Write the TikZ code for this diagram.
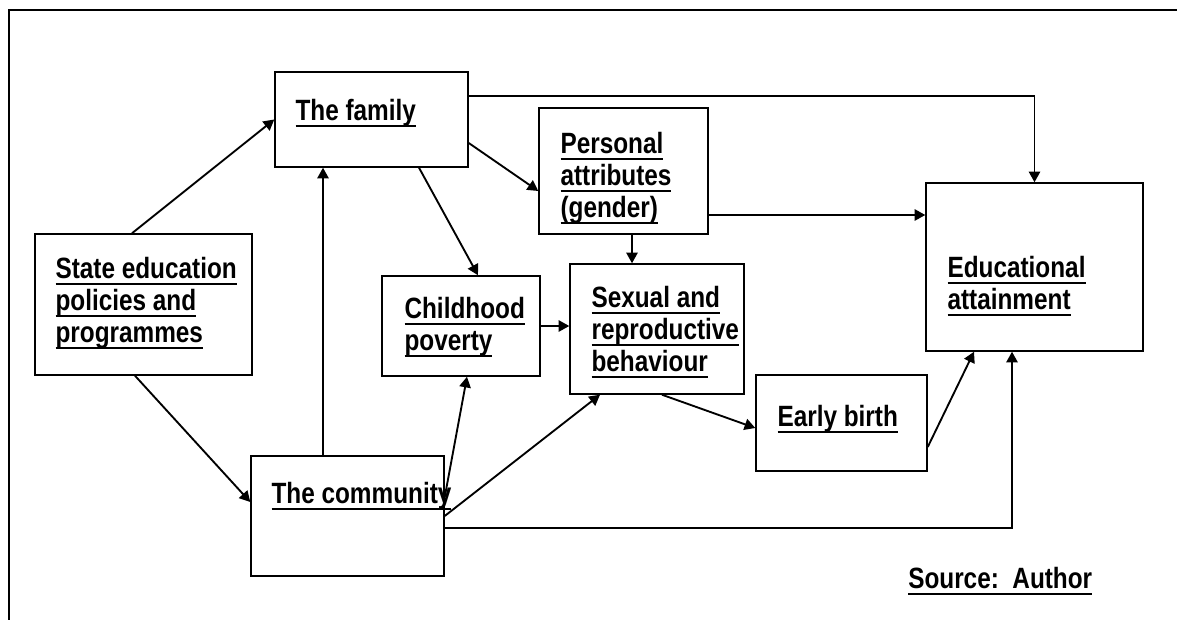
\documentclass[tikz,border=0pt]{standalone}
\usepackage{fontspec}
\usepackage{tikz}
\usetikzlibrary{arrows.meta}
\newfontfamily\diagfont[FakeStretch=0.83]{Liberation Sans}
\newcommand\undl[1]{\leavevmode\setbox0\hbox{#1}\rlap{\rule[-4.5pt]{\wd0}{1.5pt}}\box0}

\begin{document}
\begin{tikzpicture}[x=0.75pt, y=-0.75pt]
  \tikzset{box/.style={draw, line width=1.1pt, inner sep=0pt},
           lbl/.style={anchor=north west, inner sep=0pt, align=left,
                       font=\diagfont\bfseries\fontsize{22pt}{24pt}\selectfont},
           arr/.style={line width=1.4pt, -{Triangle[length=8pt,width=8.5pt]}}}
  \useasboundingbox (0,0) rectangle (1177,620);
  \draw[line width=1.1pt] (1177,10) -- (9,10) -- (9,620);

  \node[box, minimum width=162.75pt, minimum height=105.75pt] (state) at (143.5,304.5) {};
  \node[box, minimum width=144.75pt, minimum height=71.25pt] (family) at (371.5,119.5) {};
  \node[box, minimum width=144.75pt, minimum height=90pt] (community) at (347.5,516) {};
  \node[box, minimum width=126.75pt, minimum height=94.5pt] (personal) at (623.5,171) {};
  \node[box, minimum width=118.5pt, minimum height=75pt] (poverty) at (461,326) {};
  \node[box, minimum width=130.5pt, minimum height=97.5pt] (sexual) at (657,329) {};
  \node[box, minimum width=128.25pt, minimum height=72pt] (birth) at (841.5,423) {};
  \node[box, minimum width=162.75pt, minimum height=126pt] (attain) at (1034.5,267) {};

  \node[lbl] (statetxt) at ([shift={(21,24)}]state.north west)
    {\undl{State education}\\\undl{policies and}\\\undl{programmes}};
  \node[lbl] (familytxt) at ([shift={(21,28)}]family.north west) {\undl{The family}};
  \node[lbl] (communitytxt) at ([shift={(21,27)}]community.north west) {\undl{The community}};
  \node[lbl] (personaltxt) at ([shift={(22,25)}]personal.north west)
    {\undl{Personal}\\\undl{attributes}\\\undl{(gender)}};
  \node[lbl] (povertytxt) at ([shift={(23,22)}]poverty.north west)
    {\undl{Childhood}\\\undl{poverty}};
  \node[lbl] (sexualtxt) at ([shift={(22,23)}]sexual.north west)
    {\undl{Sexual and}\\\undl{reproductive}\\\undl{behaviour}};
  \node[lbl] (birthtxt) at ([shift={(22,31)}]birth.north west) {\undl{Early birth}};
  \node[lbl] (attaintxt) at ([shift={(22,74)}]attain.north west)
    {\undl{Educational}\\\undl{attainment}};
  \node[lbl] (source) at (908,567) {\undl{Source:\ \ Author}};

  \draw[arr] ([shift={(-11.5,0)}]state.north) -- (family.west);
  \draw[arr] ([shift={(-8.5,0)}]state.south) -- ([shift={(0,-14)}]community.west);
  \draw[arr] ([shift={(-48.5,0)}]family.south |- community.north) -- ([shift={(-48.5,0)}]family.south);
  \draw[arr] ([shift={(0,-23.5)}]family.east) -| (attain.north);
  \draw[arr] ([shift={(0,23.5)}]family.east) -- ([shift={(0,20)}]personal.west);
  \draw[arr] ([shift={(47.5,0)}]family.south) -- ([shift={(17,0)}]poverty.north);
  \draw[arr] ([shift={(8.5,0)}]personal.south) -- ([shift={(8.5,0)}]personal.south |- sexual.north);
  \draw[arr] ([shift={(0,44)}]personal.east) -- ([shift={(0,44)}]personal.east -| attain.west);
  \draw[arr] (poverty.east) -- (poverty.east -| sexual.west);
  \draw[arr] ([shift={(0,-19)}]community.east) -- ([shift={(6,0)}]poverty.south);
  \draw[arr] (community.east) -- ([shift={(-57,0)}]sexual.south);
  \draw[arr] ([shift={(0,12)}]community.east) -| ([shift={(-22.5,0)}]attain.south);
  \draw[arr] ([shift={(5,0)}]sexual.south) -- ([shift={(0,5)}]birth.west);
  \draw[arr] ([shift={(0,24)}]birth.east) -- ([shift={(-60.5,0)}]attain.south);
\end{tikzpicture}
\end{document}
